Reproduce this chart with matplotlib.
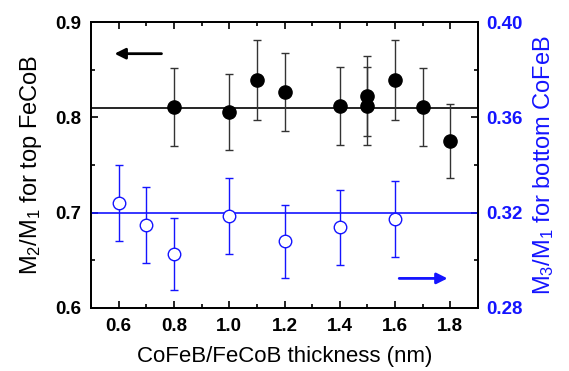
import matplotlib
matplotlib.use('Agg')
import matplotlib.pyplot as plt
from matplotlib.ticker import MultipleLocator

plt.rcParams.update({
    'font.family': ['Liberation Sans', 'DejaVu Sans'],
    'mathtext.fontset': 'custom',
    'mathtext.rm': 'Liberation Sans',
    'mathtext.it': 'Liberation Sans',
    'xtick.direction': 'in',
    'ytick.direction': 'in',
})

# top FeCoB (left axis)
x_top = [0.8, 1.0, 1.1, 1.2, 1.4, 1.5, 1.5, 1.6, 1.7, 1.8]
m21 = [0.811, 0.806, 0.839, 0.827, 0.812, 0.823, 0.812, 0.839, 0.811, 0.775]
m21_err = [0.041, 0.040, 0.042, 0.041, 0.041, 0.042, 0.041, 0.042, 0.041, 0.039]
m21_mean = 0.81

# bottom CoFeB (right axis)
x_bot = [0.6, 0.7, 0.8, 1.0, 1.2, 1.4, 1.6]
m31 = [0.3242, 0.3147, 0.3026, 0.3186, 0.308, 0.3139, 0.3173]
m31_err = [0.016, 0.016, 0.015, 0.016, 0.0153, 0.0157, 0.016]
m31_mean = 0.32

blue = '#1414ff'
tick_fs = 13.5

fig, ax = plt.subplots(figsize=(5.69, 3.71), dpi=100)
fig.subplots_adjust(left=0.16, right=0.84, top=0.94, bottom=0.17)

ax.axhline(m21_mean, color='black', lw=1.2)
ax.errorbar(x_top, m21, yerr=m21_err, fmt='o', color='black', ms=9.5,
            ecolor='#333333', elinewidth=1, capsize=3, capthick=1, zorder=3)
ax.set_xlim(0.5, 1.9)
ax.set_ylim(0.6, 0.9)
ax.xaxis.set_major_locator(MultipleLocator(0.2))
ax.xaxis.set_minor_locator(MultipleLocator(0.1))
ax.yaxis.set_major_locator(MultipleLocator(0.1))
ax.yaxis.set_minor_locator(MultipleLocator(0.05))
ax.set_xticks([0.6, 0.8, 1.0, 1.2, 1.4, 1.6, 1.8])
ax.tick_params(which='both', top=True, right=False, width=1.2)
ax.tick_params(which='major', length=5, pad=7)
ax.tick_params(which='minor', length=3)
for lab in ax.get_xticklabels() + ax.get_yticklabels():
    lab.set_fontweight('bold')
    lab.set_fontsize(tick_fs)
ax.set_xlabel('CoFeB/FeCoB thickness (nm)', fontsize=16, labelpad=8)
ax.set_ylabel('M$_2$/M$_1$ for top FeCoB', fontsize=17, labelpad=8)
for s in ax.spines.values():
    s.set_linewidth(1.3)

ax.annotate('', xy=(0.575, 0.867), xytext=(0.765, 0.867),
            arrowprops=dict(arrowstyle='-|>', color='black', lw=2, mutation_scale=16))

ax2 = ax.twinx()
ax2.axhline(m31_mean, color=blue, lw=1.2)
ax2.errorbar(x_bot, m31, yerr=m31_err, fmt='o', mfc='white', mec=blue, color=blue,
             ms=9, mew=1, elinewidth=1, capsize=3, capthick=1, zorder=3)
ax2.set_ylim(0.28, 0.40)
ax2.yaxis.set_major_locator(MultipleLocator(0.04))
ax2.yaxis.set_minor_locator(MultipleLocator(0.02))
ax2.tick_params(which='both', colors='black', labelcolor=blue, width=1.2)
ax2.tick_params(which='major', length=5, pad=6)
ax2.tick_params(which='minor', length=3)
ax2.set_yticks([0.28, 0.32, 0.36, 0.40])
ax2.set_yticklabels(['0.28', '0.32', '0.36', '0.40'], fontweight='bold',
                    fontsize=tick_fs, color=blue)
ax2.set_ylabel('M$_3$/M$_1$ for bottom CoFeB', fontsize=17, color=blue, labelpad=6)
for s in ax2.spines.values():
    s.set_linewidth(1.3)

ax.annotate('', xy=(1.8, 0.631), xytext=(1.605, 0.631),
            arrowprops=dict(arrowstyle='-|>', color=blue, lw=2, mutation_scale=16))

fig.savefig('out.png', dpi=100)
